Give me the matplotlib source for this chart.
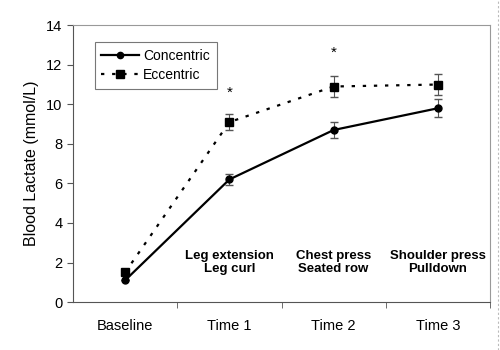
import matplotlib.pyplot as plt
from matplotlib.lines import Line2D

plt.rcParams['font.family'] = ['Liberation Sans', 'DejaVu Sans']

categories = ["Baseline", "Time 1", "Time 2", "Time 3"]
concentric = [1.1, 6.2, 8.7, 9.8]
concentric_err = [0.0, 0.3, 0.4, 0.45]
eccentric = [1.5, 9.1, 10.9, 11.0]
eccentric_err = [0.0, 0.4, 0.55, 0.55]
exercises = ["", "Leg extension\nLeg curl", "Chest press\nSeated row", "Shoulder press\nPulldown"]
star_pos = [1, 2]
star_y = [10.6, 12.6]

x = list(range(len(categories)))

fig = plt.figure(figsize=(5, 3.5), dpi=100)
ax = fig.add_axes([0.146, 0.137, 0.834, 0.791])

ax.errorbar(x, concentric, yerr=concentric_err, color='black', lw=1.6,
            marker='o', ms=5, ecolor='#555555', elinewidth=0.8, capsize=3,
            label='Concentric')
ax.errorbar(x, eccentric, yerr=eccentric_err, color='black', lw=1.6,
            linestyle=(0, (1.5, 3.5)), marker='s', ms=6, ecolor='#555555',
            elinewidth=0.8, capsize=3, label='Eccentric')

for i, t in zip(star_pos, star_y):
    ax.text(i, t, "*", ha='center', va='center', fontsize=11)

for i, txt in enumerate(exercises):
    if txt:
        ax.text(i, 2.0, txt, ha='center', va='center', fontsize=9.5,
                fontweight='bold', linespacing=1.15)

ax.set_xlim(-0.5, 3.5)
ax.set_ylim(0, 14)
ax.set_yticks(range(0, 15, 2))
ax.set_xticks(x)
ax.set_xticklabels(categories, fontsize=10.5)
ax.set_xticks([0.5, 1.5, 2.5, 3.5], minor=True)
ax.tick_params(axis='x', which='major', length=0, pad=12)
ax.tick_params(axis='x', which='minor', length=4, color='#555555')
ax.tick_params(axis='y', labelsize=10.5, length=4, color='#555555')
ax.set_ylabel("Blood Lactate (mmol/L)", fontsize=11.5, labelpad=5)

for s in ax.spines.values():
    s.set_color('#999999')
ax.spines['left'].set_color('#555555')
ax.spines['bottom'].set_color('#555555')

handles = [
    Line2D([], [], color='black', lw=1.6, marker='o', ms=4.5),
    Line2D([], [], color='black', lw=1.6, linestyle=(0, (1.5, 3.5)), marker='s', ms=5.5),
]
leg = ax.legend(handles, ["Concentric", "Eccentric"], loc='upper left',
                bbox_to_anchor=(0.035, 0.965), fontsize=10, frameon=True,
                fancybox=False, edgecolor='#555555', handlelength=2.7,
                handletextpad=0.3, borderpad=0.5, borderaxespad=0.5,
                labelspacing=0.4)
leg.get_frame().set_linewidth(0.8)

fig.add_artist(Line2D([0.996, 0.996], [0, 1], transform=fig.transFigure,
                      color='#bbbbbb', lw=0.8, linestyle=(0, (2, 2))))

fig.savefig("out.png")
